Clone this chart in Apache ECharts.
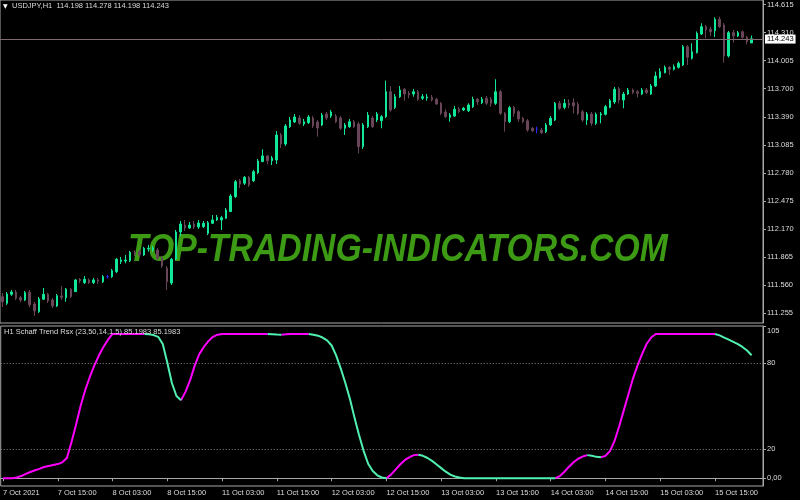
<!DOCTYPE html>
<html><head><meta charset="utf-8">
<script src="https://cdn.jsdelivr.net/npm/echarts@6/dist/echarts.min.js"></script>
<style>html,body{margin:0;padding:0;background:#000}#c{width:800px;height:500px}</style>
</head><body><div id="c"></div>
<script>
const symbolName = 'USDJPY';
const timeframe = 'H1';
const startTime = '2021-10-07T03:00:00Z';

const open = [
111.432,111.360,111.458,111.483,111.421,111.396,111.480,111.352,111.268,111.404,
111.458,111.396,111.331,111.440,111.421,111.513,111.487,111.622,111.585,111.614,
111.585,111.614,111.595,111.650,111.650,111.704,111.816,111.821,111.824,111.916,
111.923,111.887,111.952,111.941,111.941,111.854,111.742,111.581,111.843,112.137,
112.213,112.181,112.224,112.192,112.195,112.123,112.232,112.268,112.268,112.287,
112.359,112.522,112.696,112.668,112.733,112.696,112.784,112.904,112.966,112.914,
112.922,113.194,113.096,113.285,113.336,113.380,113.314,113.329,113.380,113.336,
113.304,113.423,113.401,113.401,113.380,113.268,113.285,113.339,113.314,113.067,
113.285,113.380,113.358,113.350,113.394,113.666,113.496,113.612,113.693,113.649,
113.641,113.666,113.595,113.598,113.605,113.584,113.540,113.445,113.387,113.401,
113.475,113.467,113.459,113.503,113.584,113.547,113.595,113.584,113.540,113.666,
113.431,113.339,113.496,113.448,113.377,113.350,113.268,113.257,113.249,113.230,
113.304,113.358,113.540,113.496,113.540,113.547,113.529,113.448,113.358,113.423,
113.322,113.412,113.420,113.496,113.554,113.699,113.576,113.641,113.685,113.666,
113.641,113.685,113.641,113.729,113.823,113.874,113.932,113.911,113.932,113.958,
114.157,114.031,114.092,114.295,114.375,114.347,114.331,114.456,114.394,114.056,
114.310,114.274,114.320,114.259,114.198];

const close = [
111.377,111.461,111.483,111.415,111.396,111.476,111.342,111.276,111.407,111.458,
111.385,111.331,111.443,111.425,111.513,111.432,111.614,111.603,111.622,111.585,
111.614,111.600,111.650,111.650,111.715,111.840,111.832,111.832,111.916,111.897,
111.887,111.960,111.960,111.963,111.851,111.767,111.595,111.840,112.137,112.224,
112.181,112.213,112.192,112.235,112.232,112.239,112.268,112.297,112.293,112.377,
112.530,112.685,112.660,112.733,112.649,112.794,112.911,112.966,112.914,112.944,
113.194,113.096,113.293,113.358,113.391,113.322,113.339,113.391,113.293,113.271,
113.412,113.380,113.445,113.339,113.268,113.304,113.339,113.285,113.067,113.304,
113.412,113.285,113.423,113.394,113.666,113.467,113.612,113.685,113.641,113.631,
113.666,113.584,113.612,113.609,113.576,113.532,113.431,113.394,113.412,113.475,
113.448,113.486,113.522,113.584,113.558,113.584,113.540,113.540,113.666,113.431,
113.339,113.492,113.431,113.369,113.339,113.249,113.241,113.257,113.220,113.304,
113.377,113.540,113.486,113.540,113.522,113.511,113.431,113.358,113.423,113.322,
113.420,113.423,113.503,113.568,113.693,113.576,113.641,113.685,113.656,113.649,
113.685,113.656,113.729,113.838,113.885,113.932,113.911,113.939,113.976,114.157,
114.041,114.102,114.303,114.375,114.339,114.320,114.456,114.375,114.056,114.310,
114.274,114.310,114.259,114.211,114.243];

const high = [
111.472,111.483,111.505,111.505,111.440,111.494,111.505,111.374,111.429,111.527,
111.472,111.418,111.461,111.549,111.527,111.527,111.625,111.636,111.658,111.630,
111.636,111.636,111.668,111.668,111.734,111.854,111.865,111.887,111.930,111.936,
111.941,111.974,111.996,111.985,111.963,111.876,111.767,111.854,112.159,112.257,
112.268,112.246,112.257,112.268,112.257,112.257,112.322,112.322,112.312,112.399,
112.551,112.704,112.715,112.748,112.748,112.813,112.933,113.039,112.976,112.966,
113.238,113.216,113.314,113.391,113.423,113.412,113.369,113.412,113.401,113.358,
113.434,113.445,113.467,113.423,113.401,113.325,113.369,113.358,113.336,113.325,
113.445,113.401,113.445,113.412,113.786,113.729,113.641,113.729,113.707,113.674,
113.696,113.685,113.641,113.641,113.631,113.598,113.554,113.475,113.434,113.511,
113.500,113.500,113.540,113.612,113.598,113.609,113.620,113.609,113.802,113.685,
113.445,113.511,113.511,113.467,113.391,113.369,113.282,113.285,113.271,113.325,
113.401,113.554,113.565,113.587,113.584,113.595,113.554,113.467,113.445,113.445,
113.440,113.445,113.522,113.587,113.718,113.718,113.663,113.707,113.701,113.685,
113.707,113.707,113.750,113.885,113.922,113.952,113.947,113.963,113.996,114.175,
114.175,114.194,114.323,114.412,114.394,114.375,114.477,114.484,114.415,114.328,
114.339,114.328,114.334,114.274,114.278];

const low = [
111.320,111.342,111.440,111.396,111.374,111.385,111.316,111.222,111.255,111.396,
111.363,111.309,111.320,111.396,111.377,111.418,111.483,111.581,111.570,111.570,
111.570,111.570,111.581,111.630,111.636,111.690,111.788,111.796,111.810,111.876,
111.865,111.876,111.923,111.919,111.832,111.745,111.505,111.559,111.832,112.094,
112.148,112.170,112.170,112.170,112.181,112.104,112.224,112.257,112.159,112.279,
112.355,112.508,112.617,112.649,112.628,112.682,112.769,112.900,112.878,112.867,
112.878,113.053,113.075,113.271,113.325,113.304,113.293,113.314,113.271,113.176,
113.293,113.358,113.380,113.325,113.249,113.195,113.271,113.271,112.995,113.042,
113.271,113.271,113.336,113.268,113.380,113.448,113.478,113.598,113.568,113.595,
113.612,113.568,113.576,113.568,113.560,113.522,113.412,113.380,113.339,113.391,
113.434,113.456,113.445,113.489,113.522,113.532,113.522,113.503,113.522,113.412,
113.230,113.325,113.394,113.339,113.325,113.230,113.227,113.213,113.205,113.216,
113.293,113.347,113.467,113.475,113.486,113.431,113.412,113.336,113.304,113.293,
113.304,113.322,113.407,113.486,113.532,113.540,113.486,113.631,113.641,113.605,
113.631,113.641,113.631,113.718,113.810,113.865,113.849,113.898,113.919,113.947,
113.958,114.017,114.083,114.285,114.249,114.274,114.263,114.361,113.983,114.039,
114.201,114.263,114.246,114.183,114.198];

const stcValues = [
0,0,0,0.5,
1.5,3,4.3,5.5,6.5,7.8,8.5,9.2,9.8,11,
14,25,37,50,61,70,78,85,91,96,
100,100,100,100,100,100,100,100,
99.7,99.2,98,
93,80,66,57,54,60,68,78,86,91,95,98,99.5,
100,100,100,100,100,100,100,100,100,100,100,
99.8,99.6,99.5,
99.7,
100,100,100,100,100,
99.5,98.8,97.5,95.5,92,85,76,66,55,42,30,19,10,5,2,0.5,0,
2.5,6,9.5,12.5,14.5,16,16.2,15.5,14,12,9.5,7,4.5,2.5,1.2,0.5,0,
0,0,0,0,0,0,0,0,0,0,0,0,0,0,0,0,0,0,0,0,
1.5,4.5,8,11,13.5,15,16,15.5,14.8,14.5,15.5,19,26,36,47,58,69,78,86,93,97.5,100,
100,100,100,100,100,100,100,100,100,100,100,100,100,
99,97.5,96,94.5,93,91,88.5,85.1983];

const priceTicks = [111.255,111.560,111.865,112.170,112.475,112.780,113.085,113.390,113.700,114.005,114.310,114.615];
const stcTicks = [105,80,20,0];
const stcLevels = [80,20];
const stcTitle = 'H1 Schaff Trend Rsx (23,50,14,1.5)';
const watermark = 'TOP-TRADING-INDICATORS.COM';
const emptyRightBars = 2;
const labelEvery = 12;

// build time categories (hourly bars, weekends skipped)
const MON = ['Jan','Feb','Mar','Apr','May','Jun','Jul','Aug','Sep','Oct','Nov','Dec'];
const cats = [];
let t = new Date(startTime).getTime();
while (cats.length < open.length) {
  const d = new Date(t);
  const wd = d.getUTCDay();
  if (wd !== 0 && wd !== 6) {
    const hh = String(d.getUTCHours()).padStart(2,'0');
    if (cats.length === 0) cats.push(d.getUTCDate()+' '+MON[d.getUTCMonth()]+' '+d.getUTCFullYear());
    else cats.push(d.getUTCDate()+' '+MON[d.getUTCMonth()]+' '+hh+':00');
  }
  t += 3600000;
}
for (let k=0;k<emptyRightBars;k++) cats.push('');

// split STC into rising (magenta) / falling (green) pieces
const segDir = [];
let dir = 1;
for (let i=0;i<stcValues.length-1;i++){
  const dd = stcValues[i+1]-stcValues[i];
  if (dd>0) dir=1; else if (dd<0) dir=-1;
  segDir.push(dir);
}
const upData = stcValues.map((v,i)=> (segDir[i-1]===1 || segDir[i]===1) ? v : null);
const dnData = stcValues.map((v,i)=> (segDir[i-1]===-1 || segDir[i]===-1) ? v : null);

const BULL = '#12e89a', BEAR = '#684558', FRAME = '#a8a8a8', TXT = '#dcdcdc';
const FONT = 'Liberation Sans';
const FS = 7.5;
const last = open.length-1;
const fmt3 = v => v.toFixed(3);
const showLab = (i,v) => i % labelEvery === 0 && v !== '';

const chart = echarts.init(document.getElementById('c'), null, {renderer:'canvas'});
chart.setOption({
  backgroundColor:'#000',
  animation:false,
  grid:[
    {left:0, right:37, top:0, height:323, show:true, borderColor:FRAME, borderWidth:1, backgroundColor:'transparent'},
    {left:0, right:37, top:326, height:160, show:true, borderColor:FRAME, borderWidth:1, backgroundColor:'transparent'}
  ],
  xAxis:[
    {type:'category', gridIndex:0, data:cats, boundaryGap:true, axisLine:{show:false}, axisTick:{show:false}, axisLabel:{show:false}, splitLine:{show:false}},
    {type:'category', gridIndex:1, data:cats, boundaryGap:true,
     axisLine:{show:true, lineStyle:{color:FRAME}},
     axisTick:{show:true, alignWithLabel:true, interval:showLab, length:3, lineStyle:{color:FRAME}},
     axisLabel:{show:true, interval:showLab, align:'left', color:TXT, fontSize:FS, fontFamily:FONT, margin:3},
     splitLine:{show:false}}
  ],
  yAxis:[
    {type:'value', gridIndex:0, position:'right', min:111.145, max:114.666, scale:true,
     axisLine:{show:true, lineStyle:{color:FRAME}},
     axisTick:{show:true, customValues:priceTicks, length:3, lineStyle:{color:FRAME}},
     axisLabel:{show:true, customValues:priceTicks, formatter:fmt3, color:TXT, fontSize:FS, fontFamily:FONT, margin:4},
     splitLine:{show:false}},
    {type:'value', gridIndex:1, position:'right', min:-5.4, max:105.5,
     axisLine:{show:true, lineStyle:{color:FRAME}},
     axisTick:{show:true, customValues:stcTicks, length:3, lineStyle:{color:FRAME}},
     axisLabel:{show:true, customValues:stcTicks,
       formatter:v=> v===0 ? '0,00' : (v===stcTicks[0] ? '{top|'+v+'}' : String(v)),
       rich:{top:{padding:[9,0,0,0], fontSize:FS, fontFamily:FONT, color:TXT}},
       color:TXT, fontSize:FS, fontFamily:FONT, margin:4},
     splitLine:{show:false}}
  ],
  series:[
    {type:'candlestick', xAxisIndex:0, yAxisIndex:0, barWidth:2, z:3,
     data: open.map((o,i)=>[o, close[i], low[i], high[i]]),
     itemStyle:{color:BULL, color0:BEAR, borderColor:BULL, borderColor0:BEAR, borderColorDoji:'#2a2aff', borderWidth:1},
     markLine:{symbol:'none', silent:true, animation:false,
       data:[{yAxis: close[last]}],
       lineStyle:{color:'#7d6a74', type:'solid', width:1},
       label:{show:true, position:'end', formatter:()=>fmt3(close[last]), backgroundColor:'#ffffff', color:'#000', fontSize:FS, fontFamily:FONT, padding:[1,2,0,2], distance:2}}
    },
    {type:'line', xAxisIndex:1, yAxisIndex:1, data:upData, showSymbol:false, connectNulls:false,
     lineStyle:{color:'#ff00ff', width:2}, itemStyle:{color:'#ff00ff'}, z:3,
     markLine:{symbol:'none', silent:true, animation:false, label:{show:false},
       lineStyle:{color:'#8a8a8a', type:[1,2], width:1},
       data: stcLevels.map(v=>({yAxis:v}))}
    },
    {type:'line', xAxisIndex:1, yAxisIndex:1, data:dnData, showSymbol:false, connectNulls:false,
     lineStyle:{color:'#50f0b0', width:2}, itemStyle:{color:'#50f0b0'}, z:4}
  ],
  graphic:[
    {type:'text', x:128, y:231, scaleX:0.865, z:1, silent:true,
     style:{text:watermark, fill:'#3d9a14', font:'italic bold 39px "Liberation Sans", sans-serif'}},
    {type:'text', left:3, top:3, z:10, style:{text:'▼', fill:'#ffffff', font:'6px "DejaVu Sans"'}},
    {type:'text', left:12, top:2, z:10,
     style:{text: symbolName+','+timeframe+'  '+fmt3(open[last])+' '+fmt3(high[last])+' '+fmt3(low[last])+' '+fmt3(close[last]), fill:TXT, font:FS+'px "'+FONT+'"'}},
    {type:'text', left:4, top:328, z:10,
     style:{text: stcTitle+' '+stcValues[last].toFixed(4)+' '+stcValues[last].toFixed(4), fill:TXT, font:FS+'px "'+FONT+'"'}}
  ]
});
</script></body></html>
